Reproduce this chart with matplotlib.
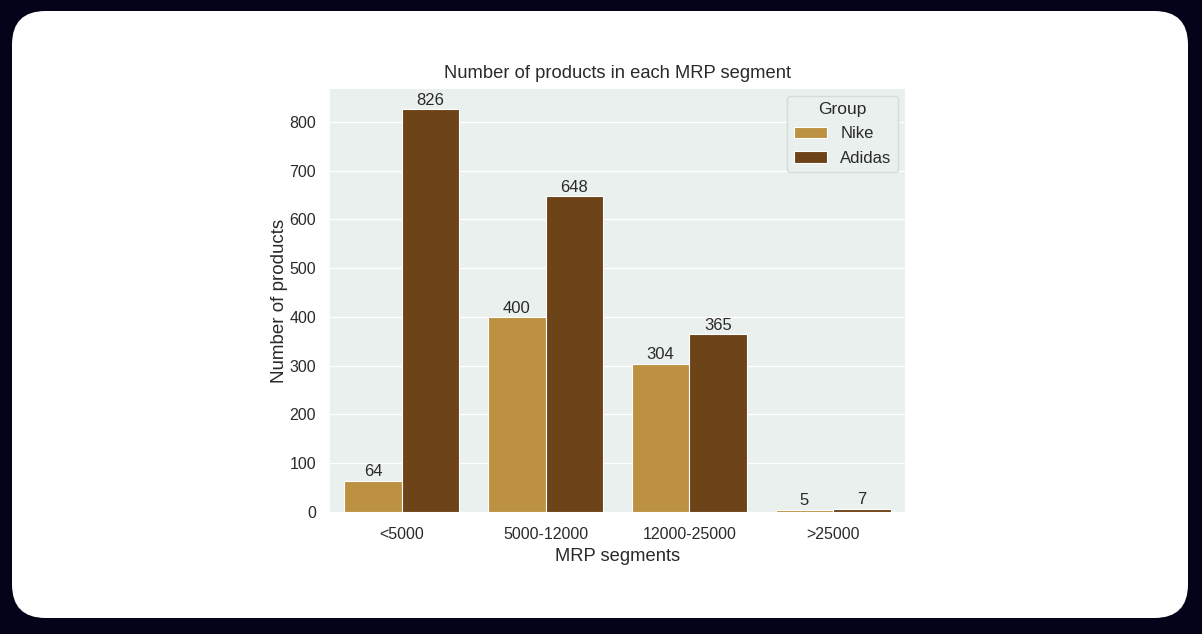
import matplotlib.pyplot as plt
import numpy as np
from matplotlib.patches import FancyBboxPatch


segments = ["<5000", "5000-12000", "12000-25000", ">25000"]
groups = ["Nike", "Adidas"]
nike_counts = [64, 400, 304, 5]
adidas_counts = [826, 648, 365, 7]

NIKE_COLOR = "#bc9242"
ADIDAS_COLOR = "#6d4318"
PANEL_COLOR = "#e9f0ee"
TEXT_COLOR = "#2a2a2a"

plt.rcParams["font.family"] = ["Liberation Sans", "DejaVu Sans"]

fig = plt.figure(figsize=(12.02, 6.34), dpi=100)
fig.patch.set_facecolor("#05031a")

# White rounded card behind the chart
card = FancyBboxPatch(
    (12 / 1202, 16 / 634), (1176 / 1202), (607 / 634),
    boxstyle="round,pad=0,rounding_size=0.028",
    transform=fig.transFigure, facecolor="white", edgecolor="none",
    mutation_aspect=1202 / 634, zorder=-5,
)
fig.patches.append(card)

ax = fig.add_axes([330 / 1202, 1 - 512 / 634, 575 / 1202, 423 / 634])
ax.set_zorder(2)
ax.set_facecolor(PANEL_COLOR)

x = np.arange(len(segments))
width = 0.4
bars_nike = ax.bar(x - width / 2, nike_counts, width, color=NIKE_COLOR,
                   edgecolor="white", linewidth=0.8, label=groups[0], zorder=2)
bars_adidas = ax.bar(x + width / 2, adidas_counts, width, color=ADIDAS_COLOR,
                     edgecolor="white", linewidth=0.8, label=groups[1], zorder=2)

for bars in (bars_nike, bars_adidas):
    ax.bar_label(bars, fontsize=12, color=TEXT_COLOR, padding=1)

ax.set_xlim(-0.5, len(segments) - 0.5)
ax.set_ylim(0, max(adidas_counts) * 1.05)
ax.set_yticks(np.arange(0, 900, 100))
ax.set_xticks(x)
ax.set_xticklabels(segments)
ax.grid(axis="y", color="white", linewidth=1, zorder=0)
ax.set_axisbelow(True)
for spine in ax.spines.values():
    spine.set_visible(False)
ax.tick_params(length=0, labelsize=11.5, colors=TEXT_COLOR)
ax.tick_params(axis="x", pad=11)
ax.tick_params(axis="y", pad=10)

ax.set_title("Number of products in each MRP segment", fontsize=13.2, color=TEXT_COLOR, pad=8)
ax.set_xlabel("MRP segments", fontsize=13.2, color=TEXT_COLOR, labelpad=4)
ax.set_ylabel("Number of products", fontsize=13.5, color=TEXT_COLOR, labelpad=1)

leg = ax.legend(title="Group", loc="upper right", fontsize=12, title_fontsize=12.5,
                frameon=True, facecolor=PANEL_COLOR, edgecolor="#d0d6d4",
                borderaxespad=0.4, labelspacing=0.55)
for t in leg.get_texts():
    t.set_color(TEXT_COLOR)
leg.get_title().set_color(TEXT_COLOR)

fig.savefig("out.png", dpi=100, facecolor=fig.get_facecolor())
